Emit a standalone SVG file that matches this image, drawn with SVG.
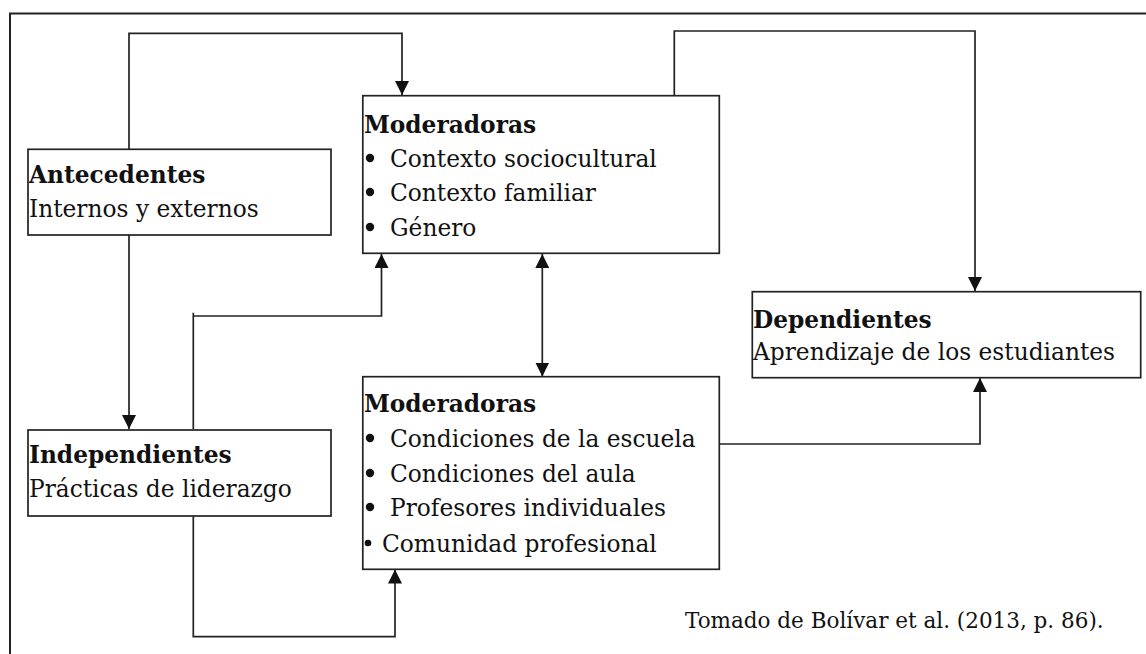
<svg xmlns="http://www.w3.org/2000/svg" width="1146" height="654" viewBox="0 0 1146 654">
<style>
.box{fill:#fff;stroke:#222;stroke-width:1.7}
.ln{fill:none;stroke:#222;stroke-width:1.7}
.t{font-family:"DejaVu Serif","Liberation Serif",serif;font-size:23.3px;fill:#111}
.b{font-weight:bold}
.cap{font-family:"DejaVu Serif","Liberation Serif",serif;font-size:21.5px;fill:#111}
.dot{fill:#111}
</style>
<defs>
<marker id="ah" markerUnits="userSpaceOnUse" markerWidth="14" markerHeight="16" viewBox="0 0 14 16" refX="14" refY="7" orient="auto">
<path d="M0,0 L14,7 L0,14 Z" fill="#111"/>
</marker>
<marker id="ahs" markerUnits="userSpaceOnUse" markerWidth="14" markerHeight="16" viewBox="0 0 14 16" refX="0" refY="7" orient="auto">
<path d="M14,0 L0,7 L14,14 Z" fill="#111"/>
</marker>
</defs>
<rect x="10" y="13.5" width="1150" height="660" fill="none" stroke="#222" stroke-width="2"/>
<g id="connectors">
<path class="ln" d="M129,149 V33.3 H402 V95" marker-end="url(#ah)"/>
<path class="ln" d="M674.3,95 V31 H975 V291" marker-end="url(#ah)"/>
<path class="ln" d="M129,235 V429" marker-end="url(#ah)"/>
<path class="ln" d="M193.3,429 V312.7 M193.3,316 H381.5 V254" marker-end="url(#ah)"/>
<path class="ln" d="M193.3,516 V636.7 H395 V569.5" marker-end="url(#ah)"/>
<path class="ln" d="M542.3,254 V376.5" marker-start="url(#ahs)" marker-end="url(#ah)"/>
<path class="ln" d="M719.3,444 H980 V378" marker-end="url(#ah)"/>
</g>
<g id="antecedentes">
<rect class="box" x="28" y="149.3" width="303" height="85.7"/>
<text class="t b" x="29" y="183">Antecedentes</text>
<text class="t" x="29" y="217">Internos y externos</text>
</g>
<g id="moderadoras1">
<rect class="box" x="362.8" y="95.7" width="356.5" height="157.6"/>
<text class="t b" x="364" y="133">Moderadoras</text>
<circle class="dot" cx="370" cy="158" r="4.2"/><text class="t" x="390" y="167">Contexto sociocultural</text>
<circle class="dot" cx="370" cy="192" r="4.2"/><text class="t" x="390" y="201">Contexto familiar</text>
<circle class="dot" cx="370" cy="227" r="4.2"/><text class="t" x="390" y="236">Género</text>
</g>
<g id="dependientes">
<rect class="box" x="752.3" y="291.7" width="388.4" height="86"/>
<text class="t b" x="753" y="328">Dependientes</text>
<text class="t" x="753" y="360">Aprendizaje de los estudiantes</text>
</g>
<g id="moderadoras2">
<rect class="box" x="362.8" y="376.7" width="356.5" height="192.6"/>
<text class="t b" x="364" y="412">Moderadoras</text>
<circle class="dot" cx="370" cy="438" r="4.2"/><text class="t" x="390" y="447">Condiciones de la escuela</text>
<circle class="dot" cx="370" cy="473" r="4.2"/><text class="t" x="390" y="482">Condiciones del aula</text>
<circle class="dot" cx="370" cy="507" r="4.2"/><text class="t" x="390" y="516">Profesores individuales</text>
<circle class="dot" cx="368" cy="543" r="3.3"/><text class="t" x="382" y="552">Comunidad profesional</text>
</g>
<g id="independientes">
<rect class="box" x="28" y="430" width="303" height="86"/>
<text class="t b" x="29" y="463">Independientes</text>
<text class="t" x="29" y="497">Prácticas de liderazgo</text>
</g>
<text class="cap" x="685" y="628">Tomado de Bolívar et al. (2013, p. 86).</text>
</svg>
